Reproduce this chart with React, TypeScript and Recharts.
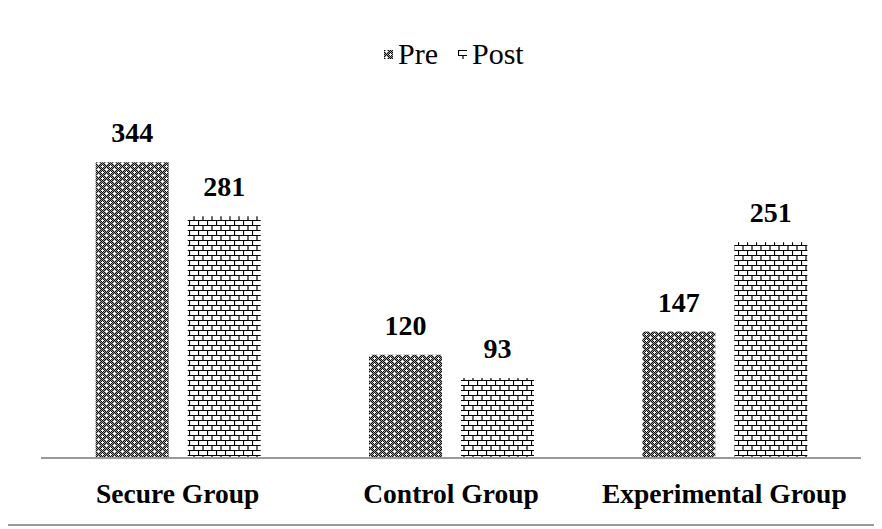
import { BarChart, Bar, XAxis, YAxis, LabelList } from "recharts";

const groups = ["Secure Group", "Control Group", "Experimental Group"];
const preValues = [344, 120, 147];
const postValues = [281, 93, 251];
const seriesNames = ["Pre", "Post"];

const data = groups.map((name, i) => ({ name, pre: preValues[i], post: postValues[i] }));

const serif = "'Liberation Serif', 'Times New Roman', serif";

const Patterns = () => (
  <svg width={0} height={0} style={{ position: "absolute" }}>
    <defs>
      <pattern id="checker" width={2} height={2} patternUnits="userSpaceOnUse">
        <rect width={2} height={2} fill="#9a9a9a" />
        <rect x={0} y={0} width={1} height={1} fill="#111" />
        <rect x={1} y={1} width={1} height={1} fill="#111" />
      </pattern>
      <pattern id="prePattern" width={8} height={6} patternUnits="userSpaceOnUse">
        <rect width={8} height={6} fill="url(#checker)" />
        <rect x={1} y={1} width={3} height={1} fill="#fff" />
        <rect x={2} y={0} width={1} height={3} fill="#fff" />
        <rect x={5} y={4} width={3} height={1} fill="#fff" />
        <rect x={6} y={3} width={1} height={3} fill="#fff" />
      </pattern>
      <pattern id="postPattern" width={9} height={10} patternUnits="userSpaceOnUse">
        <rect width={9} height={10} fill="#fff" />
        <path d="M0 0.5H9M0 5.5H9M0.5 0V5.5M5 5V10" stroke="#000" strokeWidth={1.2} fill="none" />
      </pattern>
    </defs>
  </svg>
);

const LegendItems = () => (
  <div
    style={{
      position: "absolute",
      left: 384,
      top: 37,
      display: "flex",
      alignItems: "center",
      fontFamily: serif,
      fontSize: 30,
      color: "#000",
      whiteSpace: "nowrap",
    }}
  >
    <svg width={9} height={9} style={{ marginRight: 5 }}>
      <rect width={9} height={9} fill="url(#prePattern)" />
    </svg>
    <span style={{ marginRight: 20 }}>{seriesNames[0]}</span>
    <svg width={9} height={9} style={{ marginRight: 5 }}>
      <rect width={9} height={9} fill="url(#postPattern)" />
    </svg>
    <span>{seriesNames[1]}</span>
  </div>
);

const labelStyle = { fontFamily: serif, fontSize: 28, fontWeight: "bold", fill: "#000" };

const line = { position: "absolute" as const, background: "#999", zIndex: 10 };

export default function App() {
  return (
    <div
      style={{
        position: "relative",
        marginLeft: -8,
        marginTop: -8,
        width: 882,
        height: 529,
        overflow: "hidden",
        background: "#fff",
      }}
    >
      <Patterns />
      <div style={{ position: "absolute", left: 0, top: 0 }}>
        <BarChart
          width={882}
          height={529}
          data={data}
          margin={{ top: 114, right: 21, bottom: 41, left: 41 }}
          barCategoryGap="20%"
          barGap={19}
        >
          {/* frame of the figure box, open on the right */}
          <path d="M900 5H5V525H900" fill="none" stroke="#999" strokeWidth={2} />
          <YAxis hide domain={[0, 400]} />
          <XAxis
            dataKey="name"
            height={30}
            axisLine={{ stroke: "#999", strokeWidth: 2 }}
            tickLine={false}
            tickSize={0}
            tickMargin={25}
            tick={{ fontFamily: serif, fontSize: 27.5, fontWeight: "bold", fill: "#000" }}
            interval={0}
          />
          <Bar dataKey="pre" name={seriesNames[0]} fill="url(#prePattern)" isAnimationActive={false}>
            <LabelList dataKey="pre" position="top" offset={20} style={labelStyle} />
          </Bar>
          <Bar dataKey="post" name={seriesNames[1]} fill="url(#postPattern)" isAnimationActive={false}>
            <LabelList dataKey="post" position="top" offset={20} style={labelStyle} />
          </Bar>
        </BarChart>
      </div>
      <LegendItems />
      <div style={{ ...line, left: 4, top: 4, width: 2, height: 522 }} />
      <div style={{ ...line, left: 4, top: 4, width: 878, height: 2 }} />
    </div>
  );
}
